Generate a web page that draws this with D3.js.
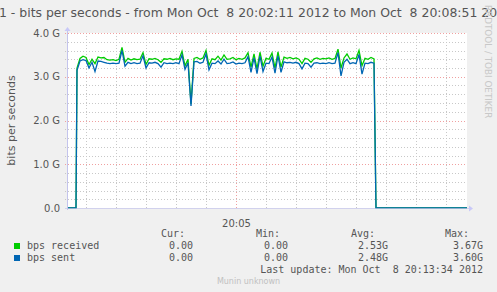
<!DOCTYPE html>
<html>
<head>
<meta charset="utf-8">
<script src="https://cdn.jsdelivr.net/npm/d3@7"></script>
<style>
  body { margin: 0; background: #f0f0f0; }
  svg { display: block; }
  text { white-space: pre; }
</style>
</head>
<body>
<div id="chart"></div>
<script>

// window shown on the graph
var windowStart = new Date(2012, 9, 8, 20, 2, 11),
    windowEnd = new Date(2012, 9, 8, 20, 8, 51);

// samples, one every 3 seconds, in Gbit/s
var sampleStart = new Date(2012, 9, 8, 20, 2, 21);
var sampleStep = 3;

var received = [
  3.20, 3.42, 3.47, 3.44, 3.28, 3.40, 3.30, 3.45, 3.43, 3.44,
  3.39, 3.38, 3.39, 3.37, 3.40, 3.67, 3.33, 3.42, 3.38, 3.41,
  3.39, 3.40, 3.55, 3.28, 3.41, 3.40, 3.42, 3.39, 3.33, 3.41,
  3.40, 3.42, 3.39, 3.41, 3.40, 3.58, 3.25, 3.40, 2.38, 3.42,
  3.44, 3.40, 3.43, 3.60, 3.26, 3.41, 3.39, 3.47, 3.38, 3.50,
  3.40, 3.41, 3.44, 3.39, 3.42, 3.40, 3.43, 3.55, 3.22, 3.52,
  3.18, 3.56, 3.24, 3.42, 3.40, 3.54, 3.20, 3.57, 3.22, 3.45,
  3.42, 3.44, 3.41, 3.43, 3.40, 3.30, 3.42, 3.40, 3.33, 3.41,
  3.43, 3.40, 3.42, 3.41, 3.43, 3.40, 3.42, 3.63, 3.20, 3.43,
  3.52, 3.40, 3.43, 3.41, 3.60, 3.25, 3.42, 3.40, 3.44, 3.41
];

var sent = [
  3.15, 3.36, 3.39, 3.37, 3.20, 3.33, 3.12, 3.36, 3.35, 3.33,
  3.31, 3.30, 3.31, 3.30, 3.31, 3.60, 3.24, 3.33, 3.30, 3.32,
  3.30, 3.31, 3.48, 3.20, 3.32, 3.31, 3.33, 3.30, 3.22, 3.32,
  3.30, 3.31, 3.30, 3.32, 3.30, 3.50, 3.17, 3.32, 2.33, 3.34,
  3.35, 3.31, 3.33, 3.52, 3.16, 3.31, 3.30, 3.36, 3.29, 3.40,
  3.30, 3.31, 3.34, 3.29, 3.31, 3.30, 3.32, 3.46, 3.10, 3.43,
  3.07, 3.47, 3.12, 3.31, 3.30, 3.45, 3.08, 3.48, 3.10, 3.34,
  3.32, 3.33, 3.31, 3.33, 3.30, 3.18, 3.31, 3.30, 3.22, 3.31,
  3.32, 3.30, 3.31, 3.30, 3.32, 3.30, 3.31, 3.55, 3.02, 3.33,
  3.40, 3.30, 3.32, 3.30, 3.51, 3.06, 3.31, 3.30, 3.33, 3.31
];

// legend
var seriesNames = ["bps received", "bps sent"];
var seriesColors = ["#00cc00", "#0066b3"];
var curValues = ["0.00", "0.00"];
var minValues = ["0.00", "0.00"];
var avgValues = ["2.53G", "2.48G"];
var maxValues = ["3.67G", "3.60G"];

var yTicks = [0, 1, 2, 3, 4];
var titleText = "1 - bits per seconds - from Mon Oct  8 20:02:11 2012 to Mon Oct  8 20:08:51 2012";
var lastUpdate = "Last update: Mon Oct  8 20:13:34 2012";

var W = 497, H = 292;
var svg = d3.select("#chart").append("svg")
    .attr("width", W)
    .attr("height", H)
    .style("font-family", "'DejaVu Sans', sans-serif");

svg.append("rect").attr("width", W).attr("height", H).attr("fill", "#f0f0f0");

var x = d3.scaleTime().domain([windowStart, windowEnd]).range([67, 467]);
var y = d3.scaleLinear().domain([0, 4]).range([208, 33]);

// plot area
svg.append("rect")
  .attr("x", x.range()[0]).attr("y", y.range()[1])
  .attr("width", x.range()[1] - x.range()[0])
  .attr("height", y.range()[0] - y.range()[1])
  .attr("fill", "#ffffff");

// grid: minor every 0.2G / 30s, major every 1G / 5 min
var minorY = d3.range(1, 20).map(function (i) { return i * 0.2; })
    .filter(function (v) { return Math.abs(v - Math.round(v)) > 1e-6; });
var grid = svg.append("g").attr("shape-rendering", "crispEdges");

grid.selectAll(".hminor").data(minorY).enter().append("line")
  .attr("x1", x.range()[0] - 2).attr("x2", x.range()[1])
  .attr("y1", function (d) { return Math.round(y(d)) + 0.5; })
  .attr("y2", function (d) { return Math.round(y(d)) + 0.5; })
  .attr("stroke", "#c8c8c8").attr("stroke-dasharray", "1,2");

var minorX = x.ticks(d3.timeSecond.every(30)).filter(function (d) {
  return !(d.getMinutes() % 5 == 0 && d.getSeconds() == 0);
});
var majorX = x.ticks(d3.timeMinute.every(5));

grid.selectAll(".vminor").data(minorX).enter().append("line")
  .attr("x1", function (d) { return Math.round(x(d)) + 0.5; })
  .attr("x2", function (d) { return Math.round(x(d)) + 0.5; })
  .attr("y1", y.range()[1]).attr("y2", y.range()[0] + 2)
  .attr("stroke", "#c8c8c8").attr("stroke-dasharray", "1,2");

grid.selectAll(".hmajor").data(yTicks.slice(1)).enter().append("line")
  .attr("x1", x.range()[0] - 2).attr("x2", x.range()[1])
  .attr("y1", function (d) { return Math.round(y(d)) + 0.5; })
  .attr("y2", function (d) { return Math.round(y(d)) + 0.5; })
  .attr("stroke", "#f0a0a0").attr("stroke-dasharray", "1,2");

grid.selectAll(".vmajor").data(majorX).enter().append("line")
  .attr("x1", function (d) { return Math.round(x(d)) + 0.5; })
  .attr("x2", function (d) { return Math.round(x(d)) + 0.5; })
  .attr("y1", y.range()[1]).attr("y2", y.range()[0] + 2)
  .attr("stroke", "#f0a0a0").attr("stroke-dasharray", "1,2");

// y labels
var fmtY = function (d) { return d == 0 ? "0.0" : d3.format(".1f")(d) + " G"; };
svg.append("g")
  .attr("transform", "translate(" + (x.range()[0] - 7) + ",0)")
  .call(d3.axisLeft(y).tickValues(yTicks).tickFormat(fmtY).tickSize(0).tickPadding(0))
  .call(function (g) { g.select(".domain").remove(); })
  .selectAll("text")
    .attr("font-family", "'DejaVu Sans', sans-serif")
    .attr("font-size", "10px")
    .attr("fill", "#555");

// x labels
svg.append("g")
  .attr("transform", "translate(0," + (y.range()[0] + 12) + ")")
  .call(d3.axisBottom(x).tickValues(majorX).tickFormat(d3.timeFormat("%H:%M")).tickSize(0).tickPadding(0))
  .call(function (g) { g.select(".domain").remove(); })
  .selectAll("text")
    .attr("font-family", "'DejaVu Sans', sans-serif")
    .attr("font-size", "10px")
    .attr("fill", "#555");

// series
function toPoints(vals) {
  var pts = [{t: windowStart, v: 0}, {t: d3.timeSecond.offset(sampleStart, -1), v: 0}];
  vals.forEach(function (v, i) {
    pts.push({t: d3.timeSecond.offset(sampleStart, i * sampleStep), v: v});
  });
  var last = d3.timeSecond.offset(sampleStart, (vals.length - 1) * sampleStep);
  pts.push({t: d3.timeSecond.offset(last, 2), v: 0});
  pts.push({t: windowEnd, v: 0});
  return pts;
}
var line = d3.line()
  .x(function (d) { return x(d.t); })
  .y(function (d) { return y(d.v); });

[received, sent].forEach(function (vals, i) {
  svg.append("path")
    .datum(toPoints(vals))
    .attr("d", line)
    .attr("fill", "none")
    .attr("stroke", seriesColors[i])
    .attr("stroke-width", 1.3);
});

// axes with arrows
var axisColor = "#c4c4ec";
svg.append("line")
  .attr("x1", x.range()[0] - 2).attr("x2", x.range()[1] + 2)
  .attr("y1", y.range()[0] + 0.5).attr("y2", y.range()[0] + 0.5)
  .attr("stroke", axisColor).attr("opacity", 0.7);
svg.append("line")
  .attr("x1", x.range()[0] + 0.5).attr("x2", x.range()[0] + 0.5)
  .attr("y1", y.range()[0] + 2).attr("y2", y.range()[1] - 3)
  .attr("stroke", axisColor);
var ax = x.range()[0] + 0.5, ay = y.range()[1] - 6;
svg.append("path")
  .attr("d", "M" + (ax - 3) + "," + (ay + 4) + "L" + ax + "," + ay + "L" + (ax + 3) + "," + (ay + 4) + "Z")
  .attr("fill", "#c8c8f8");
var bx = x.range()[1] + 6, by = y.range()[0] + 0.5;
svg.append("path")
  .attr("d", "M" + (bx - 4) + "," + (by - 3) + "L" + bx + "," + by + "L" + (bx - 4) + "," + (by + 3) + "Z")
  .attr("fill", "#c8c8f8");

// title
svg.append("text")
  .attr("x", -1).attr("y", 17)
  .attr("font-size", "12.45px")
  .attr("fill", "#555")
  .text(titleText);

// vertical y title
svg.append("text")
  .attr("transform", "translate(15," + ((y.range()[0] + y.range()[1]) / 2) + ") rotate(-90)")
  .attr("text-anchor", "middle")
  .attr("font-size", "11px")
  .attr("fill", "#555")
  .text("bits per seconds");

// rrdtool watermark
svg.append("text")
  .attr("transform", "translate(485,5) rotate(90)")
  .attr("font-size", "8.8px")
  .attr("fill", "#c8c8c8")
  .text("RRDTOOL / TOBI OETIKER");

// legend
var legend = svg.append("g")
  .style("font-family", "'DejaVu Sans Mono', monospace")
  .attr("font-size", "10px")
  .attr("fill", "#555");

var headers = [["Cur:", 185], ["Min:", 280], ["Avg:", 375], ["Max:", 469]];
headers.forEach(function (h) {
  legend.append("text").attr("x", h[1]).attr("y", 237).attr("text-anchor", "end").text(h[0]);
});

var cols = [[curValues, 193], [minValues, 288], [avgValues, 388], [maxValues, 483]];
seriesNames.forEach(function (name, i) {
  var yy = 249 + i * 12;
  legend.append("rect")
    .attr("x", 14).attr("y", yy - 6).attr("width", 6).attr("height", 6)
    .attr("fill", seriesColors[i]);
  legend.append("text").attr("x", 27).attr("y", yy).text(name);
  cols.forEach(function (c) {
    legend.append("text").attr("x", c[1]).attr("y", yy).attr("text-anchor", "end").text(c[0][i]);
  });
});

legend.append("text").attr("x", 483).attr("y", 273).attr("text-anchor", "end").text(lastUpdate);

svg.append("text")
  .attr("x", 248.5).attr("y", 284)
  .attr("text-anchor", "middle")
  .attr("font-size", "8px")
  .attr("fill", "#c0c0c0")
  .text("Munin unknown");

</script>
</body>
</html>
